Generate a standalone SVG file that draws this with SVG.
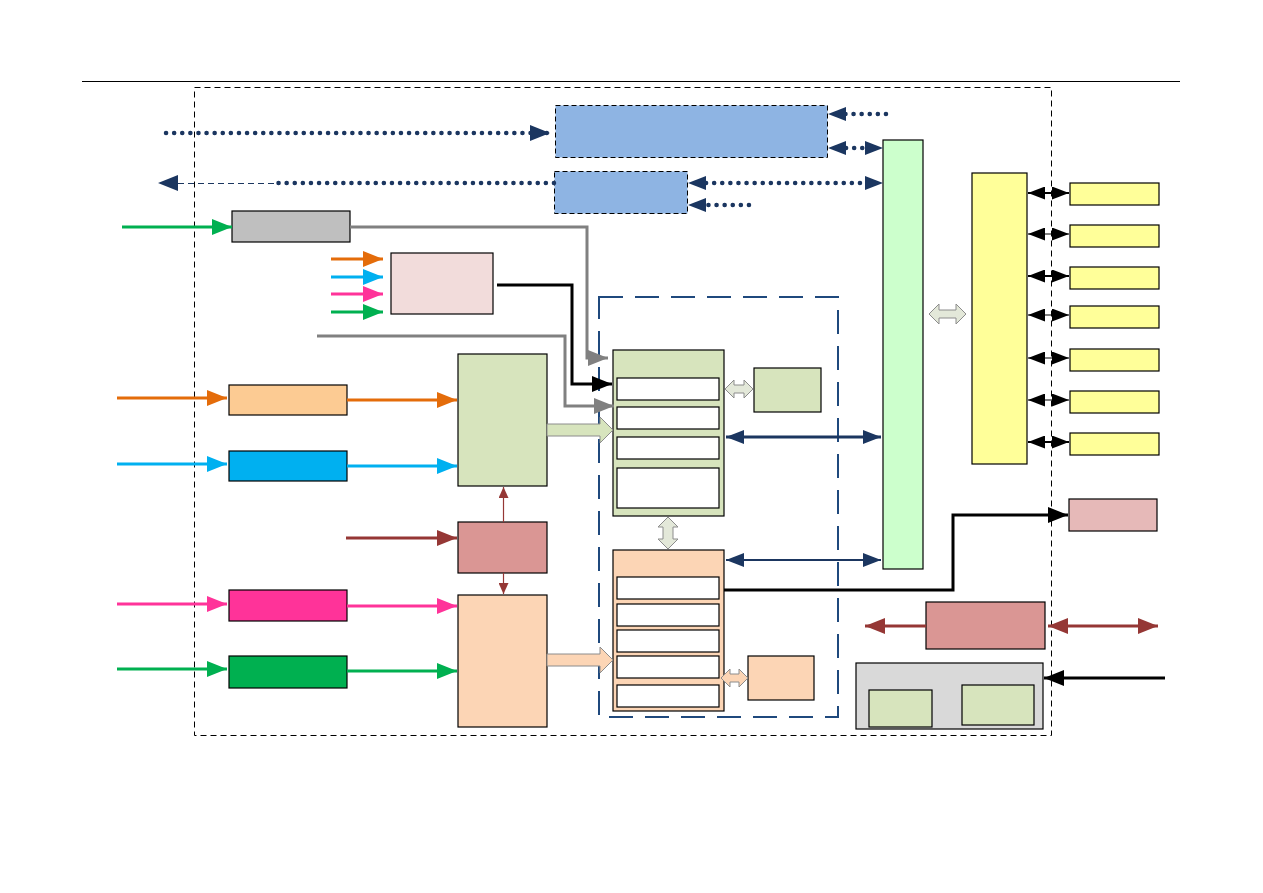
<svg xmlns="http://www.w3.org/2000/svg" width="1263" height="893" viewBox="0 0 1263 893">
<style>
.bx{stroke:#000;stroke-width:1.2}
.in{fill:#fff;stroke:#000;stroke-width:1.2}
.dot{fill:none;stroke:#1B3660;stroke-width:4.5;stroke-linecap:round;stroke-dasharray:0.1 8}
.fat{stroke:#8C8C8C;stroke-width:1}
</style>
<defs>
<marker id="mNv" markerUnits="userSpaceOnUse" markerWidth="22" markerHeight="16" refX="20" refY="8" orient="auto-start-reverse"><path d="M0,0 L20,8 L0,16 z" fill="#1B3660"/></marker>
<marker id="mNs" markerUnits="userSpaceOnUse" markerWidth="20" markerHeight="14" refX="18" refY="7" orient="auto-start-reverse"><path d="M0,0 L18,7 L0,14 z" fill="#1B3660"/></marker>
<marker id="mBk" markerUnits="userSpaceOnUse" markerWidth="22" markerHeight="16" refX="20" refY="8" orient="auto-start-reverse"><path d="M0,0 L20,8 L0,16 z" fill="#000"/></marker>
<marker id="mBs" markerUnits="userSpaceOnUse" markerWidth="18" markerHeight="13" refX="17" refY="6.5" orient="auto-start-reverse"><path d="M0,0 L17,6.5 L0,13 z" fill="#000"/></marker>
<marker id="mGy" markerUnits="userSpaceOnUse" markerWidth="22" markerHeight="16" refX="20" refY="8" orient="auto-start-reverse"><path d="M0,0 L20,8 L0,16 z" fill="#808080"/></marker>
<marker id="mOr" markerUnits="userSpaceOnUse" markerWidth="22" markerHeight="16" refX="20" refY="8" orient="auto-start-reverse"><path d="M0,0 L20,8 L0,16 z" fill="#E46C0A"/></marker>
<marker id="mCy" markerUnits="userSpaceOnUse" markerWidth="22" markerHeight="16" refX="20" refY="8" orient="auto-start-reverse"><path d="M0,0 L20,8 L0,16 z" fill="#00B0F0"/></marker>
<marker id="mPk" markerUnits="userSpaceOnUse" markerWidth="22" markerHeight="16" refX="20" refY="8" orient="auto-start-reverse"><path d="M0,0 L20,8 L0,16 z" fill="#FF3399"/></marker>
<marker id="mGn" markerUnits="userSpaceOnUse" markerWidth="22" markerHeight="16" refX="20" refY="8" orient="auto-start-reverse"><path d="M0,0 L20,8 L0,16 z" fill="#00B050"/></marker>
<marker id="mBr" markerUnits="userSpaceOnUse" markerWidth="22" markerHeight="16" refX="20" refY="8" orient="auto-start-reverse"><path d="M0,0 L20,8 L0,16 z" fill="#953735"/></marker>
<marker id="mBrS" markerUnits="userSpaceOnUse" markerWidth="12" markerHeight="10" refX="11" refY="5" orient="auto-start-reverse"><path d="M0,0 L11,5 L0,10 z" fill="#953735"/></marker>
</defs>
<rect width="1263" height="893" fill="#fff"/>
<line x1="82" y1="81.5" x2="1180" y2="81.5" stroke="#000" stroke-width="1"/>
<rect id="frame" x="194.5" y="87.5" width="857" height="648" fill="none" stroke="#000" stroke-width="1" stroke-dasharray="6 4"/>
<rect id="dashbox" x="599" y="297" width="239" height="420" fill="none" stroke="#1F497D" stroke-width="2" stroke-dasharray="24 12"/>

<g id="blue1"><rect x="555.5" y="105.5" width="272" height="52" fill="#8EB4E3" stroke="#000" stroke-width="1" stroke-dasharray="5 3"/></g>
<g id="blue2"><rect x="554.5" y="171.5" width="133" height="42" fill="#8EB4E3" stroke="#000" stroke-width="1" stroke-dasharray="5 3"/></g>
<g id="greenbus"><rect class="bx" x="883" y="140" width="40" height="429" fill="#CCFFCC"/></g>
<g id="yellowbus"><rect class="bx" x="972" y="173" width="55" height="291" fill="#FFFF99"/></g>
<g id="y1"><rect class="bx" x="1070" y="183" width="89" height="22" fill="#FFFF99"/></g>
<g id="y2"><rect class="bx" x="1070" y="225" width="89" height="22" fill="#FFFF99"/></g>
<g id="y3"><rect class="bx" x="1070" y="267" width="89" height="22" fill="#FFFF99"/></g>
<g id="y4"><rect class="bx" x="1070" y="306" width="89" height="22" fill="#FFFF99"/></g>
<g id="y5"><rect class="bx" x="1070" y="349" width="89" height="22" fill="#FFFF99"/></g>
<g id="y6"><rect class="bx" x="1070" y="391" width="89" height="22" fill="#FFFF99"/></g>
<g id="y7"><rect class="bx" x="1070" y="433" width="89" height="22" fill="#FFFF99"/></g>
<g id="graybox"><rect class="bx" x="232" y="211" width="118" height="31" fill="#BFBFBF"/></g>
<g id="pinkbox"><rect class="bx" x="391" y="253" width="102" height="61" fill="#F2DCDB"/></g>
<g id="orangebox"><rect class="bx" x="229" y="385" width="118" height="30" fill="#FCCB93"/></g>
<g id="cyanbox"><rect class="bx" x="229" y="451" width="118" height="30" fill="#00B0F0"/></g>
<g id="magentabox"><rect class="bx" x="229" y="590" width="118" height="31" fill="#FF3399"/></g>
<g id="greenbox"><rect class="bx" x="229" y="656" width="118" height="32" fill="#00B050"/></g>
<g id="blockC"><rect class="bx" x="458" y="354" width="89" height="132" fill="#D7E4BD"/></g>
<g id="blockD"><rect class="bx" x="458" y="522" width="89" height="51" fill="#DA9694"/></g>
<g id="blockE"><rect class="bx" x="458" y="595" width="89" height="132" fill="#FCD5B5"/></g>
<g id="blockA">
<rect class="bx" x="613" y="350" width="111" height="166" fill="#D7E4BD"/>
<rect class="in" x="617" y="378" width="102" height="22"/>
<rect class="in" x="617" y="407" width="102" height="22"/>
<rect class="in" x="617" y="437" width="102" height="22"/>
<rect class="in" x="617" y="468" width="102" height="40"/>
</g>
<g id="smallgreen"><rect class="bx" x="754" y="368" width="67" height="44" fill="#D7E4BD"/></g>
<g id="blockB">
<rect class="bx" x="613" y="550" width="111" height="161" fill="#FCD5B5"/>
<rect class="in" x="617" y="577" width="102" height="22"/>
<rect class="in" x="617" y="604" width="102" height="22"/>
<rect class="in" x="617" y="630" width="102" height="22"/>
<rect class="in" x="617" y="656" width="102" height="22"/>
<rect class="in" x="617" y="685" width="102" height="22"/>
</g>
<g id="smallpeach"><rect class="bx" x="748" y="656" width="66" height="44" fill="#FCD5B5"/></g>
<g id="rosebox"><rect class="bx" x="1069" y="499" width="88" height="32" fill="#E6B9B8"/></g>
<g id="redbox"><rect class="bx" x="926" y="602" width="119" height="47" fill="#DA9694"/></g>
<g id="graygroup">
<rect class="bx" x="856" y="663" width="187" height="66" fill="#D9D9D9"/>
<rect class="bx" x="869" y="690" width="63" height="37" fill="#D7E4BD"/>
<rect class="bx" x="962" y="685" width="72" height="40" fill="#D7E4BD"/>
</g>

<g id="connectors">
<line class="dot" x1="166" y1="133" x2="550" y2="133" marker-end="url(#mNv)"/>
<line class="dot" x1="554" y1="183" x2="274" y2="183"/>
<line x1="274" y1="183.5" x2="176" y2="183.5" stroke="#1B3660" stroke-width="1" stroke-dasharray="6 4"/>
<path d="M178,175 L158,183 L178,191 z" fill="#1B3660"/>
<line class="dot" x1="886" y1="114" x2="832" y2="114"/>
<path d="M846,107 L828,114 L846,121 z" fill="#1B3660"/>
<line class="dot" x1="846" y1="148" x2="866" y2="148"/>
<path d="M846,141 L828,148 L846,155 z" fill="#1B3660"/>
<path d="M865,141 L883,148 L865,155 z" fill="#1B3660"/>
<line class="dot" x1="706" y1="183" x2="866" y2="183"/>
<path d="M706,176 L688,183 L706,190 z" fill="#1B3660"/>
<path d="M865,176 L883,183 L865,190 z" fill="#1B3660"/>
<line class="dot" x1="749" y1="205" x2="706" y2="205"/>
<path d="M706,198 L688,205 L706,212 z" fill="#1B3660"/>

<line x1="122" y1="227" x2="232" y2="227" stroke="#00B050" stroke-width="3" marker-end="url(#mGn)"/>
<polyline points="350,227 587,227 587,358 608,358" fill="none" stroke="#808080" stroke-width="3" marker-end="url(#mGy)"/>
<line x1="331" y1="259" x2="383" y2="259" stroke="#E46C0A" stroke-width="3" marker-end="url(#mOr)"/>
<line x1="331" y1="277" x2="383" y2="277" stroke="#00B0F0" stroke-width="3" marker-end="url(#mCy)"/>
<line x1="331" y1="294" x2="383" y2="294" stroke="#FF3399" stroke-width="3" marker-end="url(#mPk)"/>
<line x1="331" y1="312" x2="383" y2="312" stroke="#00B050" stroke-width="3" marker-end="url(#mGn)"/>
<polyline points="497,285 572,285 572,384 612,384" fill="none" stroke="#000" stroke-width="3" marker-end="url(#mBk)"/>
<polyline points="317,336 565,336 565,406 614,406" fill="none" stroke="#808080" stroke-width="3" marker-end="url(#mGy)"/>

<line x1="117" y1="398" x2="227" y2="398" stroke="#E46C0A" stroke-width="3" marker-end="url(#mOr)"/>
<line x1="347" y1="400" x2="457" y2="400" stroke="#E46C0A" stroke-width="3" marker-end="url(#mOr)"/>
<line x1="117" y1="464" x2="227" y2="464" stroke="#00B0F0" stroke-width="3" marker-end="url(#mCy)"/>
<line x1="347" y1="466" x2="457" y2="466" stroke="#00B0F0" stroke-width="3" marker-end="url(#mCy)"/>
<line x1="346" y1="538" x2="457" y2="538" stroke="#953735" stroke-width="3" marker-end="url(#mBr)"/>
<line x1="117" y1="604" x2="227" y2="604" stroke="#FF3399" stroke-width="3" marker-end="url(#mPk)"/>
<line x1="347" y1="606" x2="457" y2="606" stroke="#FF3399" stroke-width="3" marker-end="url(#mPk)"/>
<line x1="117" y1="669" x2="227" y2="669" stroke="#00B050" stroke-width="3" marker-end="url(#mGn)"/>
<line x1="347" y1="671" x2="457" y2="671" stroke="#00B050" stroke-width="3" marker-end="url(#mGn)"/>
<line x1="503.5" y1="522" x2="503.5" y2="487" stroke="#953735" stroke-width="1.2" marker-end="url(#mBrS)"/>
<line x1="503.5" y1="573" x2="503.5" y2="594" stroke="#953735" stroke-width="1.2" marker-end="url(#mBrS)"/>

<polygon class="fat" points="547,424 600,424 600,417 613,430 600,443 600,436 547,436" fill="#D7E4BD"/>
<polygon class="fat" points="547,654 600,654 600,647 613,660 600,673 600,666 547,666" fill="#FCD5B5"/>
<polygon class="fat" points="725,389 734,380 734,385 744,385 744,380 753,389 744,398 744,393 734,393 734,398" fill="#E3E8D9"/>
<polygon class="fat" points="721,678 730,669 730,674 739,674 739,669 748,678 739,687 739,682 730,682 730,687" fill="#FCD5B5"/>
<polygon class="fat" points="668,517 678,527 673,527 673,539 678,539 668,549 658,539 663,539 663,527 658,527" fill="#E3E8D9"/>
<polygon class="fat" points="929,314 939,304 939,310 956,310 956,304 966,314 956,324 956,318 939,318 939,324" fill="#E3E8D9"/>

<line x1="726" y1="437" x2="881" y2="437" stroke="#1B3660" stroke-width="3" marker-start="url(#mNs)" marker-end="url(#mNs)"/>
<line x1="726" y1="560" x2="881" y2="560" stroke="#1B3660" stroke-width="2" marker-start="url(#mNs)" marker-end="url(#mNs)"/>
<polyline points="724,590 953,590 953,515 1068,515" fill="none" stroke="#000" stroke-width="3" marker-end="url(#mBk)"/>

<line x1="1028" y1="193" x2="1069" y2="193" stroke="#000" stroke-width="2" marker-start="url(#mBs)" marker-end="url(#mBs)"/>
<line x1="1028" y1="234" x2="1069" y2="234" stroke="#000" stroke-width="1.2" marker-start="url(#mBs)" marker-end="url(#mBs)"/>
<line x1="1028" y1="276" x2="1069" y2="276" stroke="#000" stroke-width="2" marker-start="url(#mBs)" marker-end="url(#mBs)"/>
<line x1="1028" y1="315" x2="1069" y2="315" stroke="#000" stroke-width="1.2" marker-start="url(#mBs)" marker-end="url(#mBs)"/>
<line x1="1028" y1="358" x2="1069" y2="358" stroke="#000" stroke-width="1.2" marker-start="url(#mBs)" marker-end="url(#mBs)"/>
<line x1="1028" y1="400" x2="1069" y2="400" stroke="#000" stroke-width="1.2" marker-start="url(#mBs)" marker-end="url(#mBs)"/>
<line x1="1028" y1="442" x2="1069" y2="442" stroke="#000" stroke-width="2" marker-start="url(#mBs)" marker-end="url(#mBs)"/>

<line x1="926" y1="626" x2="865" y2="626" stroke="#953735" stroke-width="3" marker-end="url(#mBr)"/>
<line x1="1048" y1="626" x2="1158" y2="626" stroke="#953735" stroke-width="3" marker-start="url(#mBr)" marker-end="url(#mBr)"/>
<line x1="1165" y1="678" x2="1044" y2="678" stroke="#000" stroke-width="3" marker-end="url(#mBk)"/>
</g>
</svg>
